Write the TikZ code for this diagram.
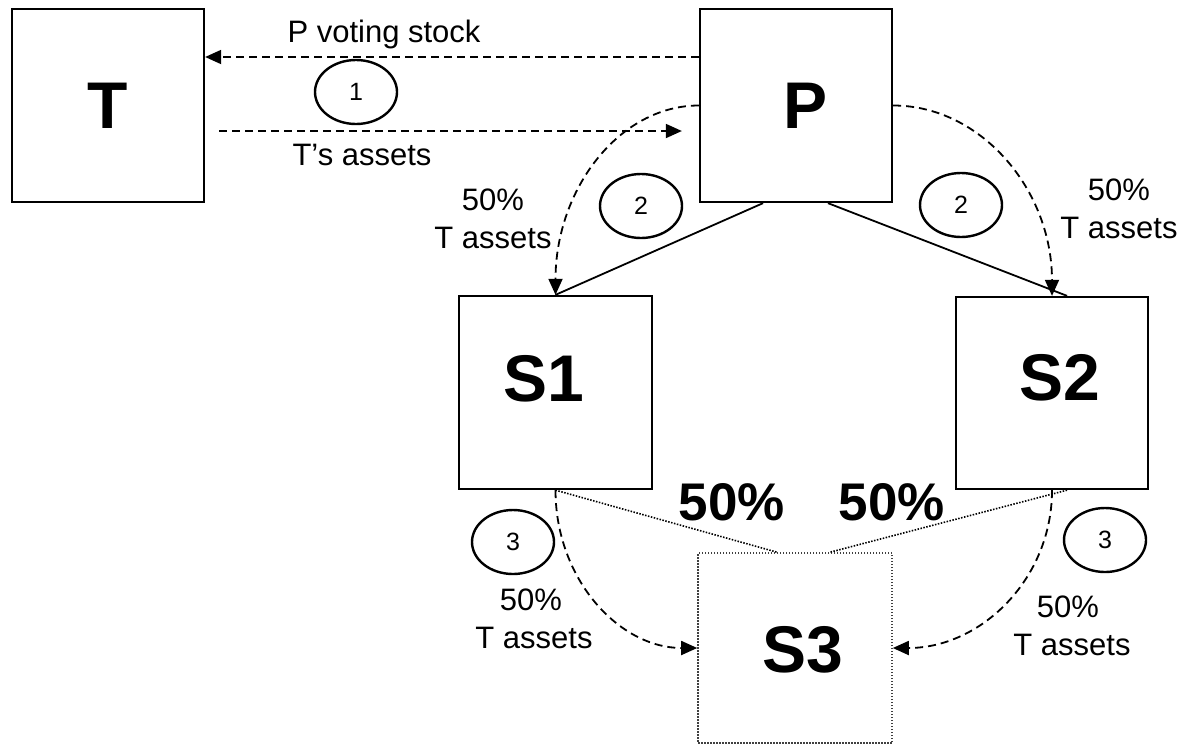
\documentclass[tikz,border=0pt]{standalone}
\usepackage{fontspec}
\setmainfont{Liberation Sans}
\usetikzlibrary{shapes.geometric,arrows.meta}

\begin{document}
\begin{tikzpicture}[x=1pt,y=-1pt,
  entity/.style={draw, line width=2.3pt, inner sep=0pt},
  bigletter/.style={font=\bfseries\fontsize{66}{66}\selectfont, inner sep=0pt},
  stepmark/.style={draw, ellipse, line width=2.4pt, minimum width=82pt,
    minimum height=64pt, inner sep=0pt, font=\fontsize{25}{25}\selectfont},
  lbl/.style={font=\fontsize{31}{38}\selectfont, anchor=base, inner sep=0pt},
  pct/.style={font=\bfseries\fontsize{53}{53}\selectfont, anchor=base, inner sep=0pt},
  flow/.style={line width=1.8pt, dash pattern=on 8pt off 5pt,
    -{Triangle[length=16pt,width=14pt]}},
  own/.style={line width=1.8pt},
  partown/.style={line width=1.6pt, dash pattern=on 1.5pt off 1.5pt}
]
\useasboundingbox (0,0) rectangle (1182,745);

% companies
\node[entity, minimum width=192pt, minimum height=193pt] (T)  at (108,105.5) {};
\node[entity, minimum width=192pt, minimum height=193pt] (P)  at (796,105.5) {};
\node[entity, minimum width=193pt, minimum height=193pt] (S1) at (555.5,392.5) {};
\node[entity, minimum width=192pt, minimum height=192pt] (S2) at (1052,393) {};
\node[partown, draw=black!75, minimum width=194pt, minimum height=190pt, inner sep=0pt] (S3) at (795,648) {};

\node[bigletter] (tT)  at (107.5,106) {T};
\node[bigletter] (tP)  at (805,106) {P};
\node[bigletter] (tS1) at (544,379) {S1};
\node[bigletter] (tS2) at (1060,378) {S2};
\node[bigletter] (tS3) at (803,650) {S3};

% step 1: exchange between T and P
\draw[flow] ([yshift=48.5pt]P.west) -- ([yshift=48.5pt]T.east);
\draw[flow] ([xshift=14pt,yshift=-25.5pt]T.east) -- ([xshift=-17pt,yshift=-25.5pt]P.west);
\node[lbl] (l1a) at (384,42) {P voting stock};
\node[lbl] (l1b) at (362,165) {T’s assets};
\node[stepmark] (c1) at (356,92) {1};

% ownership of S1 and S2 by P
\draw[own] ([xshift=-33pt]P.south) -- (S1.north);
\draw[own] ([xshift=32pt]P.south) -- ([xshift=15pt]S2.north);

% step 2: P drops T assets into S1 and S2
\draw[flow] (P.west) .. controls +(-80,0) and +(0,-105) .. (S1.north);
\draw[flow] (P.east) .. controls +(88,0) and +(0,-106) .. (S2.north);
\node[stepmark] (c2a) at (641,206) {2};
\node[stepmark] (c2b) at (961,205) {2};
\node[lbl] (l2a) at (493,210) {50\%};
\node[lbl] (l2b) at (493,248) {T assets};
\node[lbl] (l2c) at (1119,200) {50\%};
\node[lbl] (l2d) at (1119,238) {T assets};

% joint ownership of S3
\draw[partown] (S1.south) -- ([xshift=-18pt]S3.north);
\draw[partown] ([xshift=15pt]S2.south) -- ([xshift=35pt]S3.north);
\node[pct] (p1) at (732,520) {50\%};
\node[pct] (p2) at (892,520) {50\%};

% step 3: S1 and S2 drop T assets into S3
\draw[flow] (S1.south) .. controls +(0,89) and +(-78,0) .. (S3.west);
\draw[flow] (S2.south) .. controls +(0,89) and +(88,0) .. (S3.east);
\node[stepmark] (c3a) at (513,542) {3};
\node[stepmark] (c3b) at (1105,540) {3};
\node[lbl] (l3a) at (531,610) {50\%};
\node[lbl] (l3b) at (534,648) {T assets};
\node[lbl] (l3c) at (1068,617) {50\%};
\node[lbl] (l3d) at (1072,655) {T assets};
\end{tikzpicture}
\end{document}
